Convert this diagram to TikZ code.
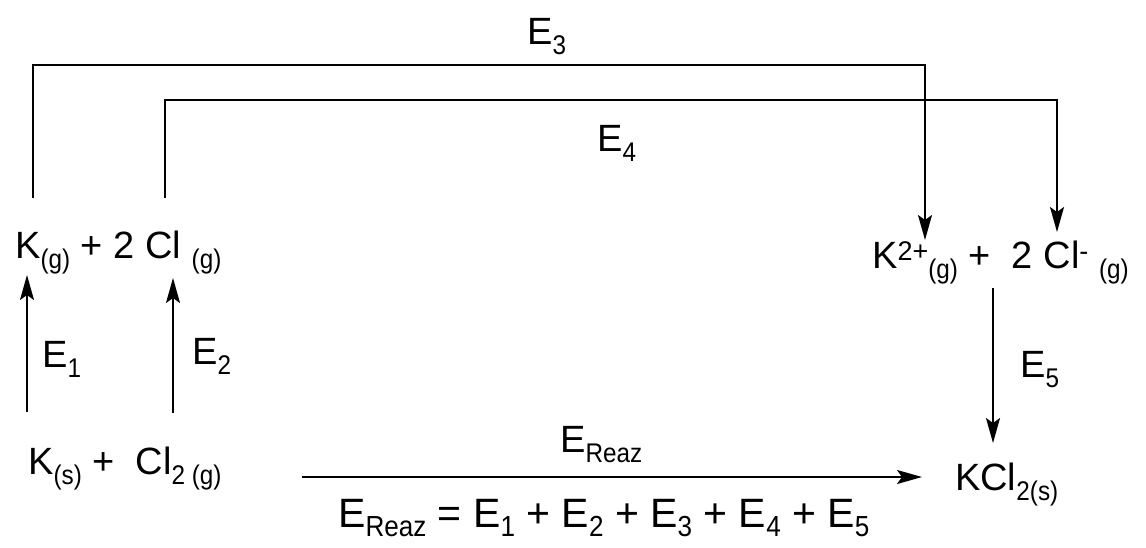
\documentclass[tikz,border=0pt]{standalone}
\usepackage{fontspec}
\setmainfont{Liberation Sans}
\usetikzlibrary{arrows.meta}
\newcommand\lowtxt[1]{\raisebox{-10pt}{\fontsize{27}{32}\selectfont\scalebox{0.9}[1]{#1}}}
\newcommand\hightxt[1]{\raisebox{8pt}{\fontsize{27}{32}\selectfont #1}}
\newcommand\bigsub[1]{\raisebox{-9pt}{\fontsize{29}{34}\selectfont\scalebox{0.9}[1]{#1}}}
\begin{document}
\begin{tikzpicture}[x=1pt,y=-1pt,
  txt/.style={anchor=base west,inner sep=0pt,font=\fontsize{38}{44}\selectfont},
  bigtxt/.style={anchor=base west,inner sep=0pt,font=\fontsize{41}{48}\selectfont},
  arr/.style={line width=1.8pt,-{Stealth[length=25pt,width=14pt,inset=5pt]}}]
\useasboundingbox (0,0) rectangle (1146,547);
% species
\node[txt] (katom) at (15,258) {K\lowtxt{(g)} + 2 Cl \lowtxt{(g)}};
\node[txt] (ksol) at (28,474) {K\lowtxt{(s)} +\ \ Cl\lowtxt{2 (g)}};
\node[txt] (ions) at (872,268) {K\hightxt{2+}\lowtxt{(g)} +\ \ 2 Cl\hightxt{-}\ \lowtxt{(g)}};
\node[txt] (kcl) at (955,490) {KCl\lowtxt{2(s)}};
% labels
\node[txt] (e1) at (42,367) {E\lowtxt{1}};
\node[txt] (e2) at (192,364) {E\lowtxt{2}};
\node[txt] (e3) at (527,44) {E\lowtxt{3}};
\node[txt] (e4) at (597,151) {E\lowtxt{4}};
\node[txt] (e5) at (1020,377) {E\lowtxt{5}};
\node[txt] (er) at (560,452) {E\lowtxt{Reaz}};
\node[bigtxt] (eq) at (338,527) {E\bigsub{Reaz} = E\bigsub{1} + E\bigsub{2} + E\bigsub{3} + E\bigsub{4} + E\bigsub{5}};
% connector ends
\coordinate (a1s) at (27,412); \coordinate (a1e) at (27,275);
\coordinate (a2s) at (173,413); \coordinate (a2e) at (173,278);
\coordinate (a3s) at (33,198); \coordinate (a3e) at (925,240);
\coordinate (a4s) at (165,198); \coordinate (a4e) at (1057,232);
\coordinate (a5s) at (993,288); \coordinate (a5e) at (993,443);
\coordinate (ars) at (302,477); \coordinate (are) at (922,477);
% connectors
\draw[arr] (a1s) -- (a1e);
\draw[arr] (a2s) -- (a2e);
\draw[arr] (a3s) |- (925,65) -- (a3e);
\draw[arr] (a4s) |- (1057,100) -- (a4e);
\draw[arr] (a5s) -- (a5e);
\draw[arr] (ars) -- (are);
\end{tikzpicture}
\end{document}
